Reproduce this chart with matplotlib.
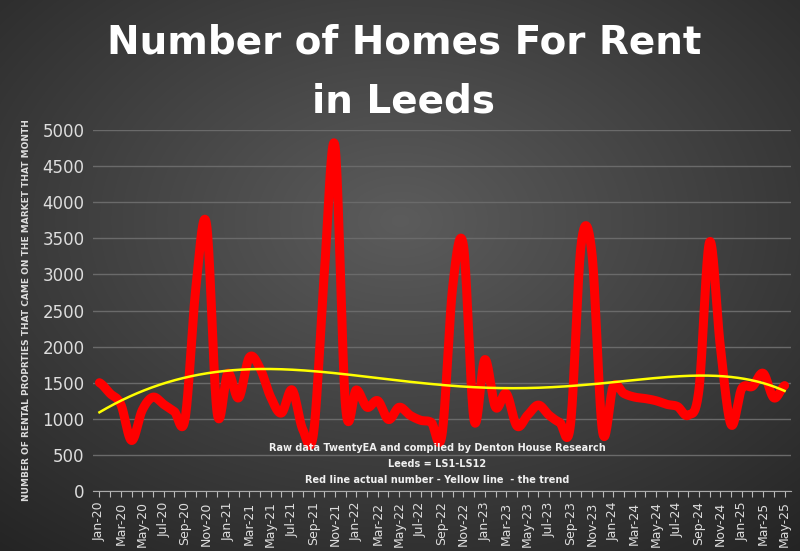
import numpy as np
import matplotlib
matplotlib.use("Agg")
import matplotlib.pyplot as plt

months = [f"{m}-{y}" for y in range(20, 26) for m in
          ["Jan","Feb","Mar","Apr","May","Jun","Jul","Aug","Sep","Oct","Nov","Dec"]][:65]
values = [1500,1350,1200,700,1120,1300,1200,1100,1000,2800,3700,1080,
          1630,1290,1850,1700,1300,1080,1400,850,800,3000,4780,1160,
          1400,1160,1250,990,1160,1050,980,950,780,2830,3400,980,
          1820,1160,1350,900,1050,1190,1050,950,920,3420,3300,820,
          1450,1350,1300,1280,1250,1200,1170,1050,1400,3450,2000,920,
          1420,1450,1630,1290,1460]

W, H = 800, 551
fig = plt.figure(figsize=(W/100, H/100), dpi=100)
bg = fig.add_axes([0, 0, 1, 1])
yy, xx = np.mgrid[0:H, 0:W]
r = np.sqrt(((xx - W*0.5)/W)**2 + ((yy - H*0.4)/H)**2)
g = np.clip(0.36 - 0.28*r, 0.12, 0.36)
bg.imshow(np.dstack([g, g, g]), aspect="auto", extent=[0, 1, 0, 1])
bg.axis("off")

ax = fig.add_axes([93/W, 1-491/H, (791-93)/W, (491-130)/H])
ax.set_facecolor("none")
n = len(values)
x = np.arange(n)
v = np.array(values, float)

P = np.concatenate([[v[0]], v, [v[-1]]])
xs, ys = [], []
for i in range(n-1):
    p0, p1, p2, p3 = P[i], P[i+1], P[i+2], P[i+3]
    t = np.linspace(0, 1, 20, endpoint=False)
    yv = 0.5*((2*p1) + (-p0+p2)*t + (2*p0-5*p1+4*p2-p3)*t**2 + (-p0+3*p1-3*p2+p3)*t**3)
    xs.append(i + t); ys.append(yv)
xs.append([n-1]); ys.append([v[-1]])
xs = np.concatenate(xs); ys = np.concatenate(ys)
ax.plot(xs, ys, color="#ff0000", lw=6.5, solid_capstyle="round", solid_joinstyle="round", zorder=3)

coef = np.polyfit(x, v, 5)
ax.plot(xs, np.polyval(coef, xs), color="#ffff00", lw=1.8, zorder=4)

ax.set_xlim(-0.6, n-0.4)
ax.set_ylim(0, 5000)
ax.set_yticks(range(0, 5001, 500))
ax.yaxis.grid(True, color="#6a6a6a", lw=1)
ax.set_axisbelow(True)
ax.set_xticks(x)
ax.set_xticklabels([m if i % 2 == 0 else "" for i, m in enumerate(months)], rotation=90)
ax.tick_params(axis="x", colors="#bbbbbb", length=4, labelcolor="#dddddd", labelsize=9)
ax.tick_params(axis="y", length=0, labelcolor="#dddddd", labelsize=12, pad=6)
for s in ["top", "right", "left"]:
    ax.spines[s].set_visible(False)
ax.spines["bottom"].set_color("#aaaaaa")
ax.set_ylabel("NUMBER OF RENTAL PROPRTIES THAT CAME ON THE MARKET THAT MONTH",
              color="#dddddd", fontsize=6.5, fontweight="bold", labelpad=8)

fig.text(0.505, 0.922, "Number of Homes For Rent", ha="center", va="center",
         color="white", fontsize=28, fontweight="bold")
fig.text(0.505, 0.815, "in Leeds", ha="center", va="center",
         color="white", fontsize=28, fontweight="bold")
for yv_, t in [(448, "Raw data TwentyEA and compiled by Denton House Research"),
               (464, "Leeds = LS1-LS12"),
               (480, "Red line actual number - Yellow line  - the trend")]:
    fig.text(437/W, 1-yv_/H, t, ha="center", va="center", color="#f0f0f0",
             fontsize=7, fontweight="bold")

fig.savefig("out.png", dpi=100)
